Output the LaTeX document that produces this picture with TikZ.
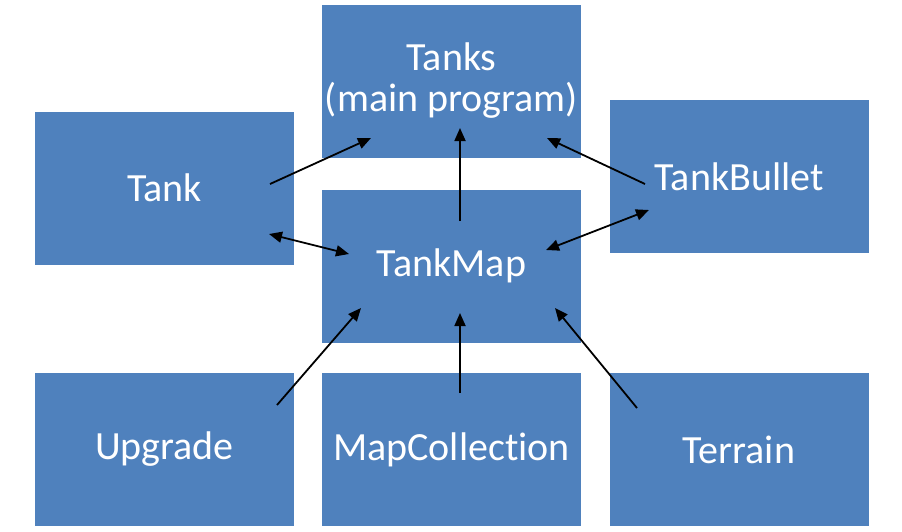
\documentclass[tikz,border=0pt]{standalone}
\usepackage{fontspec}
\setmainfont{Carlito}[Ligatures=NoCommon]
\usetikzlibrary{arrows.meta}
\definecolor{boxblue}{HTML}{4F81BD}
\tikzset{
  blockbox/.style={fill=boxblue, draw=none, minimum width=259pt, minimum height=153pt,
    inner sep=0pt, text=white, align=center, font=\fontsize{40}{41}\selectfont},
  conn/.style={line width=1.8pt, -{Triangle[length=13pt,width=11pt]}},
  biconn/.style={line width=1.8pt, {Triangle[length=13pt,width=11pt]}-{Triangle[length=13pt,width=11pt]}}
}
\begin{document}
\begin{tikzpicture}[x=1pt,y=-1pt]
\useasboundingbox (0,0) rectangle (902,531);
\node[blockbox] (tanks) at (451.5,81) {Tanks\\(main program)};
\node[blockbox] (tank) at (164.5,188) {Tank};
\node[blockbox] (bullet) at (739,176.5) {TankBullet};
\node[blockbox] (map) at (451.5,266) {TankMap};
\node[blockbox] (upgrade) at (164.5,449.5) {Upgrade};
\node[blockbox] (mapcoll) at (451.5,449.5) {MapCollection};
\node[blockbox] (terrain) at (739,449.5) {Terrain};
% connector end points
\coordinate (tankA) at (270,184);
\coordinate (tanksA) at (371,138);
\coordinate (bulletA) at (645,184);
\coordinate (tanksB) at (547,138);
\coordinate (mapTop) at (460,221);
\coordinate (tanksC) at (460,128);
\coordinate (tankB) at (269,234);
\coordinate (mapL) at (349,254);
\coordinate (bulletB) at (649,210);
\coordinate (mapR) at (546,250);
\coordinate (upgradeA) at (277,405);
\coordinate (mapBL) at (361,308);
\coordinate (mapcollA) at (460,393);
\coordinate (mapB) at (460,313);
\coordinate (terrainA) at (637,408);
\coordinate (mapBR) at (555,308);
\draw[conn] (tankA) -- (tanksA);
\draw[conn] (bulletA) -- (tanksB);
\draw[conn] (mapTop) -- (tanksC);
\draw[biconn] (tankB) -- (mapL);
\draw[biconn] (bulletB) -- (mapR);
\draw[conn] (upgradeA) -- (mapBL);
\draw[conn] (mapcollA) -- (mapB);
\draw[conn] (terrainA) -- (mapBR);
\end{tikzpicture}
\end{document}
